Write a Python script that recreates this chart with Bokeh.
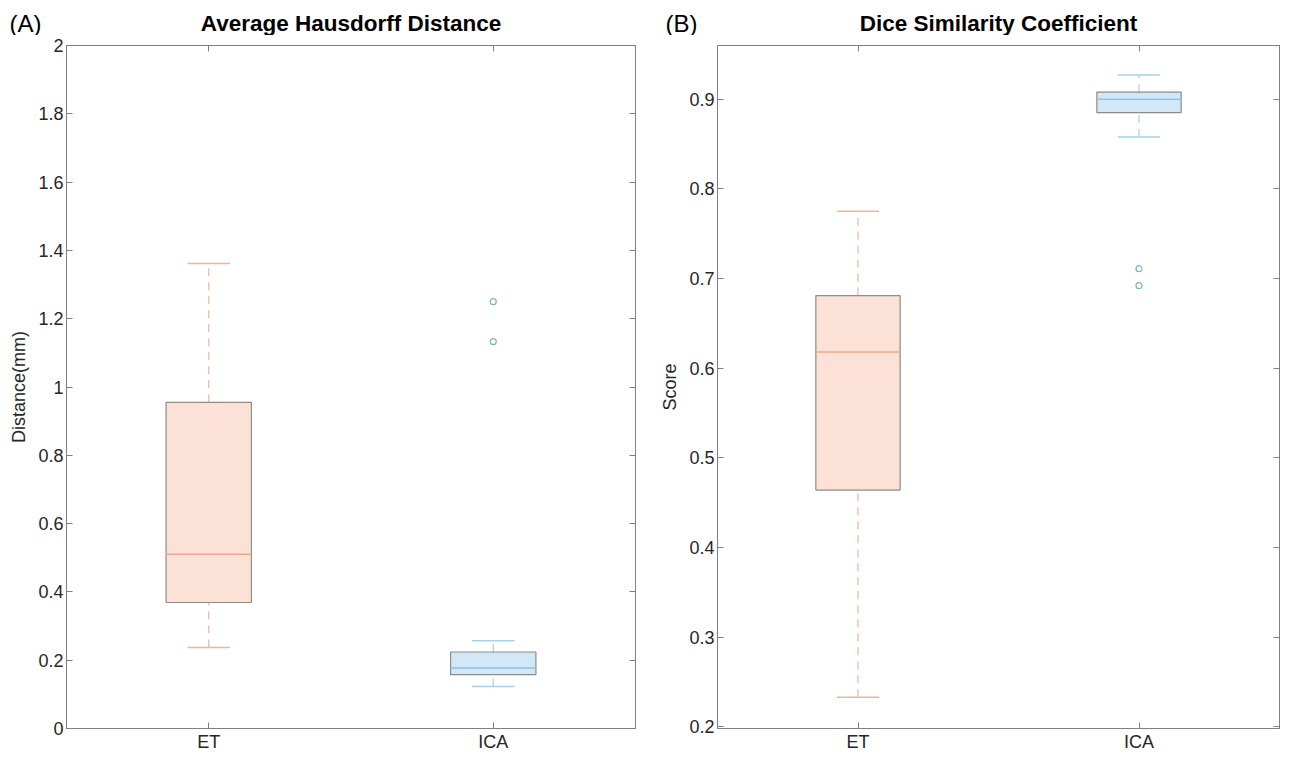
from bokeh.plotting import figure
from bokeh.layouts import row, column
from bokeh.models import LinearAxis, FixedTicker, Range1d, ColumnDataSource
from bokeh.core.properties import value
from bokeh.embed import file_html
from bokeh.resources import INLINE

categories = ["ET", "ICA"]

# Average Hausdorff Distance (mm)
ahd_lo = [0.237, 0.123]
ahd_q1 = [0.369, 0.158]
ahd_med = [0.51, 0.177]
ahd_q3 = [0.955, 0.224]
ahd_hi = [1.362, 0.257]
ahd_out_cat = ["ICA", "ICA"]
ahd_out = [1.25, 1.133]

# Dice Similarity Coefficient
dsc_lo = [0.233, 0.858]
dsc_q1 = [0.464, 0.885]
dsc_med = [0.618, 0.900]
dsc_q3 = [0.681, 0.908]
dsc_hi = [0.775, 0.927]
dsc_out_cat = ["ICA", "ICA"]
dsc_out = [0.711, 0.692]

ahd_ticks = [0, 0.2, 0.4, 0.6, 0.8, 1, 1.2, 1.4, 1.6, 1.8, 2]
ahd_tick_labels = ["0", "0.2", "0.4", "0.6", "0.8", "1", "1.2", "1.4", "1.6", "1.8", "2"]
dsc_ticks = [0.2, 0.3, 0.4, 0.5, 0.6, 0.7, 0.8, 0.9]
dsc_tick_labels = ["0.2", "0.3", "0.4", "0.5", "0.6", "0.7", "0.8", "0.9"]

titles = ["Average Hausdorff Distance", "Dice Similarity Coefficient"]
letters = ["(A)", "(B)"]

fills = ["#FBE1D6", "#D2E8F7"]
medians = ["#EDA88C", "#8EC1E2"]
whisk = ["#F0B49C", "#A9D0EA"]
out_color = "#7DB3C8"
edge = "#8C8C8C"
FONT = "Liberation Sans"
STRIP_H = 35


def make_panel(ylabel, lo, q1, med, q3, hi, out_cat, out_vals, ticks, tick_labels,
               yr, fw, left_border, right_border):
    xs = [i + 1 for i in range(len(categories))]
    xr = Range1d(0.5, len(categories) + 0.5)
    p = figure(frame_width=fw, frame_height=683, output_backend="svg", toolbar_location=None,
               x_range=xr, y_range=Range1d(*yr),
               min_border_left=left_border, min_border_right=right_border,
               min_border_top=10, min_border_bottom=26)
    p.grid.visible = False
    p.outline_line_color = "#808080"
    p.background_fill_color = "white"

    for ax in p.xaxis:
        ax.ticker = FixedTicker(ticks=xs)
        ax.major_label_overrides = {x: c for x, c in zip(xs, categories)}
        ax.axis_label_standoff = 0
    for ax in p.yaxis:
        ax.ticker = FixedTicker(ticks=ticks)
        ax.major_label_overrides = {t: l for t, l in zip(ticks, tick_labels)}
        ax.axis_label = ylabel
        ax.axis_label_text_font = FONT
        ax.axis_label_text_font_size = "18px"
        ax.axis_label_text_font_style = "normal"
        ax.axis_label_text_color = "#262626"
        ax.axis_label_standoff = 6
    for ax in list(p.xaxis) + list(p.yaxis):
        ax.major_tick_in = 6
        ax.major_tick_out = 0
        ax.minor_tick_line_color = None
        ax.axis_line_color = "#808080"
        ax.major_tick_line_color = "#808080"
        ax.major_label_text_font = FONT
        ax.major_label_text_font_size = "18px"
        ax.major_label_text_color = "#262626"
        ax.major_label_standoff = 3

    # mirror ticks on top and right (box on)
    top = LinearAxis(ticker=FixedTicker(ticks=xs))
    right = LinearAxis(ticker=FixedTicker(ticks=ticks))
    top.major_label_overrides = {x: "" for x in xs}
    right.major_label_overrides = {t: "" for t in ticks}
    for ax in (top, right):
        ax.major_tick_in = 6
        ax.major_tick_out = 0
        ax.minor_tick_line_color = None
        ax.axis_line_color = "#808080"
        ax.major_tick_line_color = "#808080"
        ax.major_label_standoff = 0
        ax.axis_label_standoff = 0
    p.add_layout(top, "above")
    p.add_layout(right, "right")

    src = ColumnDataSource(dict(x=xs, lo=lo, q1=q1, med=med, q3=q3, hi=hi,
                                fill=fills, medc=medians, wc=whisk,
                                ml=[x - 0.15 for x in xs], mr=[x + 0.15 for x in xs],
                                cl=[x - 0.075 for x in xs], cr=[x + 0.075 for x in xs]))
    # whiskers (dashed)
    p.segment(x0="x", y0="q3", x1="x", y1="hi", source=src, line_color="wc",
              line_width=1.2, line_dash="8 6")
    p.segment(x0="x", y0="lo", x1="x", y1="q1", source=src, line_color="wc",
              line_width=1.2, line_dash="8 6")
    # caps
    p.segment(x0="cl", y0="hi", x1="cr", y1="hi", source=src, line_color="wc", line_width=1.5)
    p.segment(x0="cl", y0="lo", x1="cr", y1="lo", source=src, line_color="wc", line_width=1.5)
    # boxes
    p.vbar(x="x", width=0.3, bottom="q1", top="q3", source=src, fill_color="fill",
           line_color=edge, line_width=1.2)
    # medians
    p.segment(x0="ml", y0="med", x1="mr", y1="med", source=src, line_color="medc", line_width=1.5)
    # outliers
    ox = [categories.index(c) + 1 for c in out_cat]
    p.scatter(ox, out_vals, marker="circle", size=6, fill_color=None,
              line_color=out_color, line_width=1.2)
    return p


W1L, W1F, W1R = 66, 569, 14
W2L, W2F, W2R = 68, 562, 5
W1 = W1L + W1F + W1R
W2 = W2L + W2F + W2R
TOTAL_W = W1 + W2

p1 = make_panel("Distance(mm)", ahd_lo, ahd_q1, ahd_med, ahd_q3, ahd_hi, ahd_out_cat, ahd_out,
                ahd_ticks, ahd_tick_labels, (0, 2), W1F, W1L, W1R)
p2 = make_panel("Score", dsc_lo, dsc_q1, dsc_med, dsc_q3, dsc_hi, dsc_out_cat, dsc_out,
                dsc_ticks, dsc_tick_labels, (0.198, 0.96), W2F, W2L, W2R)

# header strip holding the panel letters and the bold panel titles (pixel coordinates)
h = figure(width=TOTAL_W, height=STRIP_H, output_backend="svg", toolbar_location=None,
           x_range=Range1d(0, TOTAL_W), y_range=Range1d(0, STRIP_H),
           x_axis_type=None, y_axis_type=None, min_border=0)
h.outline_line_color = None
h.grid.visible = False
h.text(x=[9, W1 + 16], y=[12, 12], text=letters, text_font=value(FONT),
       text_font_size="24px", text_color="#000000", text_baseline="middle",
       text_align="left")
h.text(x=[W1L + W1F / 2, W1 + W2L + W2F / 2], y=[12.5, 12.5], text=titles,
       text_font=value(FONT), text_font_size="22.5px", text_font_style="bold",
       text_color="#000000", text_baseline="middle", text_align="center")

layout = column(h, row(p1, p2))
open("out.html", "w").write(file_html(layout, INLINE))
